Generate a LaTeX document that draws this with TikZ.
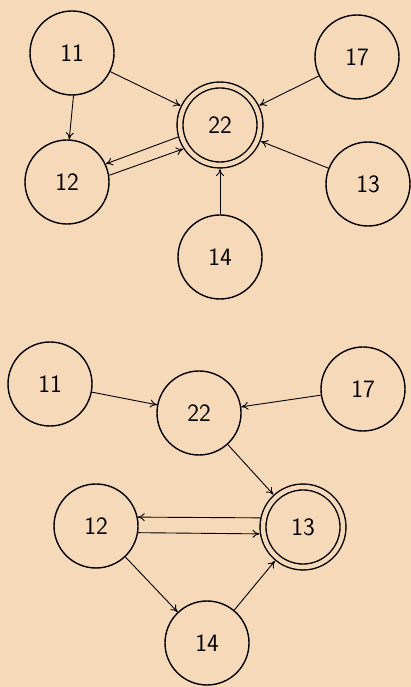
\documentclass[tikz,border=0pt]{standalone}
\usepackage{tikz}
\usetikzlibrary{arrows}
\usetikzlibrary{arrows.meta}
\usetikzlibrary{positioning}
\definecolor{paper}{RGB}{246,217,184}

\begin{document}
\begin{tikzpicture}[x=1pt,y=1pt]
  % some styles
  \tikzset{
    state/.style={
      circle,
      minimum size=84pt,
      inner sep=0pt,
      line width=1.4pt,
      font=\sffamily\fontsize{25}{28}\selectfont,
    draw
    }
  }
 \tikzset{final/.style={state,minimum size=80pt,double=paper,double distance=4.5pt,outer sep=4pt}}
 \tikzset{arr/.style={line width=0.9pt,-{To[length=7pt,width=8pt]}}}

\fill[paper] (0,0) rectangle (411,687);
\useasboundingbox (0,0) rectangle (411,687);

% upper graph
\node[state] (t11) at (72,634) {11};
\node[state] (t12) at (67,505) {12};
\node[final] (t22) at (220,562) {22};
\node[state] (t17) at (357,630) {17};
\node[state] (t13) at (368,503) {13};
\node[state] (t14) at (220,430) {14};

\foreach \a in {11,17,13,14}
    \draw[arr] (t\a) -- (t22);
\draw[arr] (t11.272) -- (t12.87);
\draw[arr] (t22.196) -- (t12.25);
\draw[arr] (t12.9) -- (t22.213);

% lower graph
\node[state] (b11) at (50,303) {11};
\node[state] (b22) at (199,274) {22};
\node[state] (b17) at (363,298) {17};
\node[state] (b12) at (96,161) {12};
\node[final] (b13) at (303,160) {13};
\node[state] (b14) at (207,44) {14};

\foreach \a in {11,17}
    \draw[arr] (b\a) -- (b22);
\draw[arr] (b22) -- (b13);
\draw[arr] (b13.168) -- (b12.12);
\draw[arr] (b12.-9) -- (b13.-171);
\draw[arr] (b12) -- (b14);
\draw[arr] (b14) -- (b13);

\end{tikzpicture}
\end{document}
